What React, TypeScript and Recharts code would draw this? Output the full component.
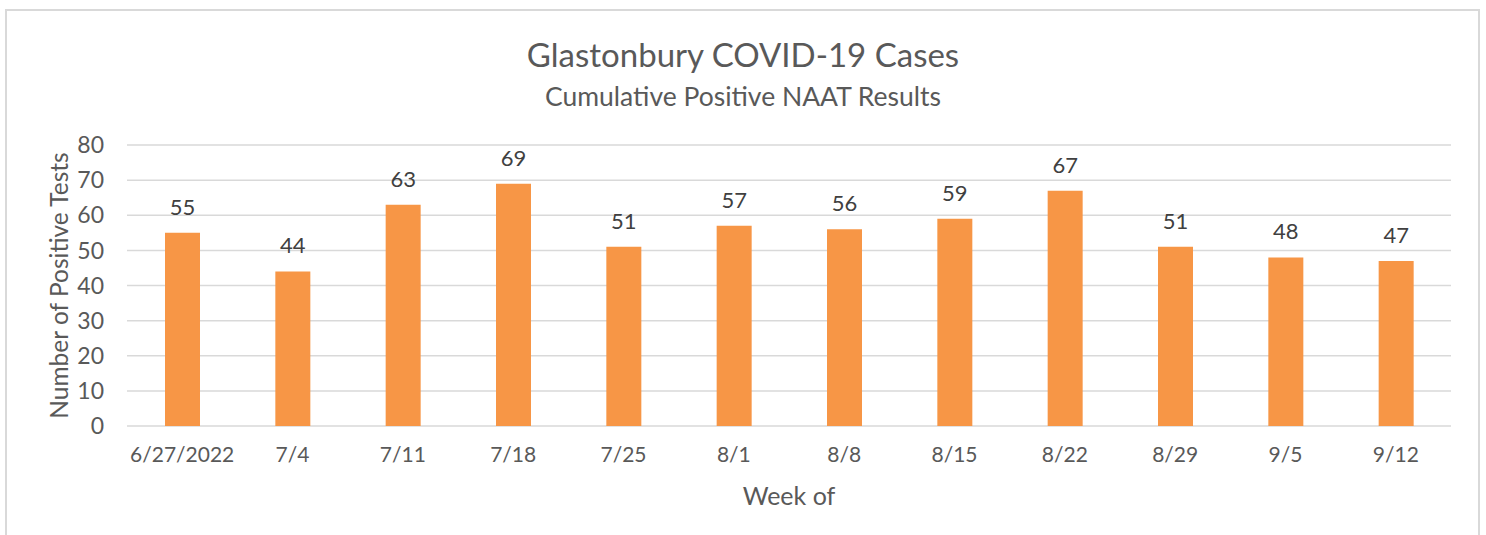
import { BarChart, Bar, XAxis, YAxis, CartesianGrid, LabelList } from 'recharts';

const weeks = ['6/27/2022', '7/4', '7/11', '7/18', '7/25', '8/1', '8/8', '8/15', '8/22', '8/29', '9/5', '9/12'];
const positiveTests = [55, 44, 63, 69, 51, 57, 56, 59, 67, 51, 48, 47];
const yTicks = [0, 10, 20, 30, 40, 50, 60, 70, 80];

const data = weeks.map((week, i) => ({ week, cases: positiveTests[i] }));

const FONT = 'Lato, "Open Sans", sans-serif';
const GREY = '#595959';

export default function App() {
  return (
    <div style={{ position: 'absolute', left: 0, top: 0, width: 1486, height: 535, overflow: 'hidden', background: '#fff', fontFamily: FONT }}>
      <div
        style={{
          position: 'absolute',
          left: 5,
          top: 9,
          width: 1471,
          height: 600,
          border: '2px solid #d9d9d9',
        }}
      />
      <div style={{ position: 'absolute', left: 0, width: 1486, top: 34, textAlign: 'center', fontSize: 33, color: GREY, lineHeight: '40px' }}>
        Glastonbury COVID-19 Cases
      </div>
      <div style={{ position: 'absolute', left: 0, width: 1486, top: 80, textAlign: 'center', fontSize: 26.5, color: GREY, lineHeight: '32px' }}>
        Cumulative Positive NAAT Results
      </div>
      <div style={{ position: 'absolute', left: 0, top: 0 }}>
        <BarChart
          width={1486}
          height={535}
          data={data}
          margin={{ top: 145, right: 35, left: 0, bottom: 0 }}
          barCategoryGap="34%"
        >
          <CartesianGrid vertical={false} stroke="#d9d9d9" strokeWidth={1.5} />
          <XAxis
            dataKey="week"
            height={109}
            axisLine={false}
            tickLine={false}
            tickSize={0}
            tickMargin={21}
            interval={0}
            tick={{ fill: GREY, fontSize: 21, fontFamily: FONT }}
            label={(props: any) => {
              const vb = props.viewBox;
              return (
                <text x={vb.x + vb.width / 2} y={vb.y + 79} textAnchor="middle" fill={GREY} fontSize={25} fontFamily={FONT}>
                  Week of
                </text>
              );
            }}
          />
          <YAxis
            width={127}
            domain={[0, 80]}
            ticks={yTicks}
            axisLine={false}
            tickLine={false}
            tickSize={0}
            tickMargin={23}
            tick={{ fill: GREY, fontSize: 23, fontFamily: FONT }}
            label={(props: any) => {
              const vb = props.viewBox;
              const cx = 58;
              const cy = vb.y + vb.height / 2;
              return (
                <text
                  x={cx}
                  y={cy}
                  transform={`rotate(-90 ${cx} ${cy})`}
                  textAnchor="middle"
                  dominantBaseline="central"
                  fill={GREY}
                  fontSize={24.5}
                  fontFamily={FONT}
                >
                  Number of Positive Tests
                </text>
              );
            }}
          />
          <Bar dataKey="cases" fill="#F79646" barSize={35} isAnimationActive={false}>
            <LabelList dataKey="cases" position="top" offset={18} fill="#404040" fontSize={22} fontFamily={FONT} />
          </Bar>
        </BarChart>
      </div>
    </div>
  );
}
